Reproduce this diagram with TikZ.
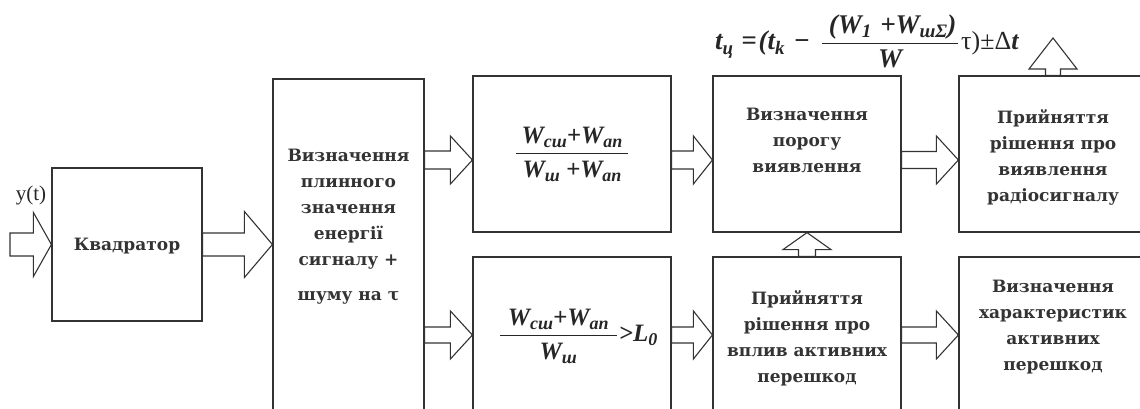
\documentclass[tikz,border=0pt]{standalone}
\usepackage{fontspec}
\setmainfont{DejaVu Serif}
\newfontfamily\timesf{Liberation Serif}
\usetikzlibrary{calc, positioning}

\newcommand\bi{\timesf\bfseries\itshape}
\newcommand\sub[1]{\raisebox{-0.35ex}{\fontsize{18}{18}\selectfont #1}}
\newcommand\subb[1]{\raisebox{-0.35ex}{\fontsize{19}{19}\selectfont #1}}

% block arrows: start, end, shaft half, head half, head length
\newcommand\harrow[5]{%
  \draw[barrow] let \p1=#1, \p2=#2 in
    (\x1,\y1+#3) -- (\x2-#5,\y1+#3) -- (\x2-#5,\y1+#4) -- (\x2,\y1)
    -- (\x2-#5,\y1-#4) -- (\x2-#5,\y1-#3) -- (\x1,\y1-#3) -- cycle;}
\newcommand\uarrow[5]{%
  \draw[barrow] let \p1=#1, \p2=#2 in
    (\x1-#3,\y1) -- (\x1-#3,\y2-#5) -- (\x1-#4,\y2-#5) -- (\x1,\y2)
    -- (\x1+#4,\y2-#5) -- (\x1+#3,\y2-#5) -- (\x1+#3,\y1) -- cycle;}

\tikzset{
  box/.style={draw=black!80, line width=1.2pt, inner sep=0pt},
  txt/.style={font=\fontsize{17}{26}\selectfont\bfseries, text=black!80, align=center, inner sep=0pt},
  barrow/.style={draw=black!80, line width=1.1pt, line join=miter},
  fml/.style={font=\fontsize{25}{30}\selectfont, text=black!85, inner sep=0pt}
}

\begin{document}
\begin{tikzpicture}[x=1pt, y=-1pt]
\useasboundingbox (0,0) rectangle (1140,409);
\clip (0,0) rectangle (1140,409);

% blocks
\node[box, minimum width=150pt, minimum height=153pt] (sq) at (127,244.5) {};
\node[box, minimum width=151pt, minimum height=361pt] (tall) at (348.5,259.5) {};
\node[box, minimum width=198pt, minimum height=156pt] (m1) at (572,154) {};
\node[box, minimum width=198pt, minimum height=183pt] (m2) at (572,348.5) {};
\node[box, minimum width=188pt, minimum height=156pt] (thr) at (807,154) {};
\node[box, minimum width=188pt, minimum height=183pt] (dec) at (807,348.5) {};
\node[box, minimum width=188pt, minimum height=156pt] (det) at (1053,154) {};
\node[box, minimum width=188pt, minimum height=183pt] (chr) at (1053,348.5) {};

% texts
\node[txt] (sqtxt) at ([yshift=-2pt]sq.center) {Квадратор};
\node[txt, below=71pt of tall.north] (talltxt)
  {Визначення\\плинного\\значення\\енергії\\сигналу +\\[9pt]шуму на τ};
\node[txt, below=33pt of thr.north] (thrtxt) {Визначення\\порогу\\виявлення};
\node[txt, below=34pt of det.north] (dettxt) {Прийняття\\рішення про\\виявлення\\радіосигналу};
\node[txt, below=34pt of dec.north] (dectxt) {Прийняття\\рішення про\\вплив активних\\перешкод};
\node[txt, below=24pt of chr.north] (chrtxt) {Визначення\\характеристик\\активних\\перешкод};

\node[fml] (f1) at (m1.center)
  {$\displaystyle{\hbox{\bi\kern6pt W\sub{сш}+W\sub{ап}\kern6pt}\above1.2pt\hbox{\bi W\sub{ш} +W\sub{ап}}}$};
\node[fml] (f2) at (578,336)
  {$\displaystyle{\hbox{\bi\kern8pt W\sub{сш}+W\sub{ап}\kern8pt}\above1.2pt\hbox{\bi W\sub{ш}}}\hbox{\bi\kern1pt>L\sub{0}}$};

% formula above the blocks
\node[fml, font=\fontsize{27}{30}\selectfont, anchor=base west] (tca) at (715,50)
  {\bi t\subb{ц}\kern8pt=\kern2pt(t\subb{k}\kern9pt−};
\node[fml, font=\fontsize{27}{30}\selectfont, anchor=base] (tcb) at (890,50)
  {$\displaystyle{\hbox{\bi\kern7pt(W\subb{1}\kern9pt+W\subb{шΣ})\kern2pt}\above1.2pt\hbox{\bi W}}$};
\node[fml, font=\fontsize{26}{30}\selectfont, anchor=base west] (tcc) at (961,50)
  {\timesf τ)±Δ\bi t};

\node[font=\timesf\fontsize{21}{21}\selectfont, text=black!85, inner sep=0pt] (yt) at (31,195) {y(t)};

\coordinate (src) at (10,244.5);
\coordinate (res) at (1053,38);
\coordinate (row1) at (0,160);
\coordinate (row2) at (0,335);

% connectors
\harrow{(src)}{(sq.west)}{11.5pt}{32pt}{18pt}
\harrow{(sq.east)}{(tall.west)}{11.5pt}{33pt}{28pt}
\harrow{(tall.east |- row1)}{(m1.west |- row1)}{9pt}{24pt}{22pt}
\harrow{(tall.east |- row2)}{(m2.west |- row2)}{8pt}{24pt}{22pt}
\harrow{(m1.east |- row1)}{(thr.west |- row1)}{9pt}{24pt}{19pt}
\harrow{(m2.east |- row2)}{(dec.west |- row2)}{8pt}{24pt}{19pt}
\harrow{(thr.east |- row1)}{(det.west |- row1)}{8.5pt}{24pt}{22pt}
\harrow{(dec.east |- row2)}{(chr.west |- row2)}{8pt}{24pt}{22pt}
\uarrow{(dec.north)}{(thr.south)}{8.5pt}{24pt}{17pt}
\uarrow{(det.north)}{(res)}{7.5pt}{24pt}{31pt}
\end{tikzpicture}
\end{document}
